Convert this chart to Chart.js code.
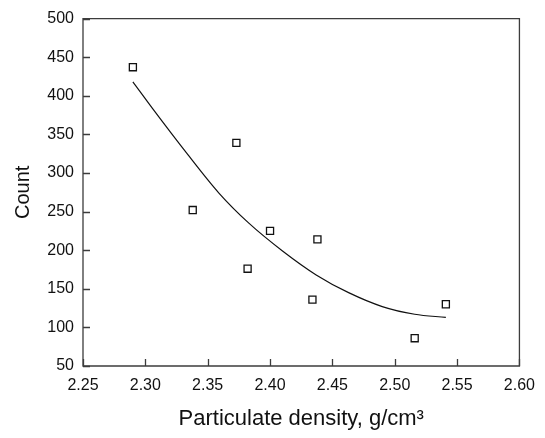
<!DOCTYPE html>
<html>
<head>
<meta charset="utf-8">
<script src="https://cdn.jsdelivr.net/npm/chart.js@4/dist/chart.umd.min.js"></script>
<style>
  html, body { margin: 0; padding: 0; background: #fff; }
  #wrap { width: 545px; height: 438px; }
</style>
</head>
<body>
<div id="wrap"><canvas id="c" width="545" height="438"></canvas></div>
<script>
// Measured points
const densityX = [2.290, 2.338, 2.373, 2.382, 2.400, 2.438, 2.434, 2.516, 2.541];
const countY   = [437, 252, 339, 176, 225, 214, 136, 86, 130];

// Fitted curve
const fitX = [2.290, 2.306, 2.333, 2.359, 2.383, 2.410, 2.437, 2.463, 2.490, 2.516, 2.541];
const fitY = [418, 383, 326, 274, 235, 199, 168, 145, 127, 117, 113];

// Axis ranges / ticks
const xTicks = [2.25, 2.30, 2.35, 2.40, 2.45, 2.50, 2.55, 2.60];
const yTicks = [50, 100, 150, 200, 250, 300, 350, 400, 450, 500];

const xTitle = 'Particulate density, g/cm³';
const yTitle = 'Count';

const pointsData = densityX.map((x, i) => ({ x: x, y: countY[i] }));
const fitData = fitX.map((x, i) => ({ x: x, y: fitY[i] }));

const frameColor = '#3c3c3c';
const textColor = '#111111';

const framePlugin = {
  id: 'frameTicks',
  afterDraw(chart) {
    const { ctx, chartArea: a, scales: { x, y } } = chart;
    ctx.save();
    ctx.strokeStyle = frameColor;
    ctx.lineWidth = 1.3;
    ctx.beginPath();
    ctx.rect(a.left, a.top, a.right - a.left, a.bottom - a.top);
    ctx.stroke();
    ctx.beginPath();
    x.ticks.forEach((t, i) => {
      const px = Math.round(x.getPixelForTick(i)) + 0.5;
      ctx.moveTo(px, a.bottom);
      ctx.lineTo(px, a.bottom - 7);
    });
    y.ticks.forEach((t, i) => {
      const py = Math.round(y.getPixelForTick(i)) + 0.5;
      ctx.moveTo(a.left, py);
      ctx.lineTo(a.left + 7, py);
    });
    ctx.stroke();
    ctx.restore();
  }
};

new Chart(document.getElementById('c'), {
  type: 'scatter',
  data: {
    datasets: [
      {
        label: 'Fit',
        data: fitData,
        showLine: true,
        borderColor: '#111',
        borderWidth: 1.2,
        pointRadius: 0,
        fill: false,
        cubicInterpolationMode: 'monotone'
      },
      {
        label: 'Count',
        data: pointsData,
        showLine: false,
        pointStyle: 'rect',
        pointRadius: 5,
        pointBackgroundColor: '#ffffff',
        pointBorderColor: '#111',
        pointBorderWidth: 1.3
      }
    ]
  },
  options: {
    responsive: false,
    animation: false,
    events: [],
    layout: { padding: { left: 0, right: 23, top: 15, bottom: 0 } },
    plugins: {
      legend: { display: false },
      tooltip: { enabled: false }
    },
    scales: {
      x: {
        type: 'linear',
        min: xTicks[0],
        max: xTicks[xTicks.length - 1],
        afterBuildTicks(scale) { scale.ticks = xTicks.map(v => ({ value: v })); },
        afterFit(scale) { scale.height = 72; },
        grid: { display: false, drawTicks: false },
        border: { display: false },
        ticks: {
          padding: 10,
          color: textColor,
          font: { family: 'Liberation Sans, Arial, sans-serif', size: 16 },
          callback: v => Number(v).toFixed(2),
          maxRotation: 0
        },
        title: {
          display: true,
          text: xTitle,
          color: textColor,
          font: { family: 'Liberation Sans, Arial, sans-serif', size: 22 },
          padding: { top: 0, bottom: 6 }
        }
      },
      y: {
        type: 'linear',
        min: yTicks[0],
        max: yTicks[yTicks.length - 1],
        afterBuildTicks(scale) { scale.ticks = yTicks.map(v => ({ value: v })); },
        afterFit(scale) { scale.width = 83; },
        grid: { display: false, drawTicks: false },
        border: { display: false },
        ticks: {
          padding: 9,
          color: textColor,
          font: { family: 'Liberation Sans, Arial, sans-serif', size: 16 },
          callback: v => String(v)
        },
        title: {
          display: true,
          text: yTitle,
          color: textColor,
          font: { family: 'Liberation Sans, Arial, sans-serif', size: 20 },
          padding: { top: 11, bottom: 0 }
        }
      }
    }
  },
  plugins: [framePlugin]
});
</script>
</body>
</html>
